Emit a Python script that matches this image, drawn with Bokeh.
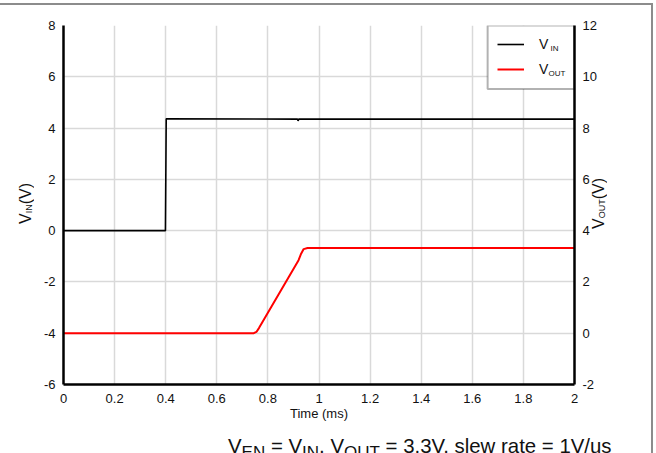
from bokeh.plotting import figure
from bokeh.models import (Range1d, LinearAxis, Label, Legend, LegendItem, Div, FixedTicker,
                          BoxAnnotation)
from bokeh.layouts import column, row
from bokeh.embed import file_html
from bokeh.resources import INLINE

# ---- data ----
vin_t = [0.0, 0.399, 0.402, 0.916, 0.918, 0.921, 2.0]
vin_v = [0.0, 0.0, 4.36, 4.35, 4.28, 4.35, 4.35]

vout_t = [0.0, 0.745, 0.755, 0.765, 0.92, 0.93, 0.94, 0.955, 2.0]
vout_v = [0.0, 0.0, 0.05, 0.2, 2.85, 3.1, 3.28, 3.32, 3.32]

x_ticks = [0, 0.2, 0.4, 0.6, 0.8, 1.0, 1.2, 1.4, 1.6, 1.8, 2.0]
x_tick_labels = ["0", "0.2", "0.4", "0.6", "0.8", "1", "1.2", "1.4", "1.6", "1.8", "2"]
yl_ticks = [-6, -4, -2, 0, 2, 4, 6, 8]
yl_tick_labels = ["-6", "-4", "-2", "0", "2", "4", "6", "8"]
yr_ticks = [-2, 0, 2, 4, 6, 8, 10, 12]
yr_tick_labels = ["-2", "0", "2", "4", "6", "8", "10", "12"]

FONT = "Liberation Sans"
TXT = "#111111"

p = figure(width=566, height=420, x_range=Range1d(0, 2), y_range=Range1d(-6, 8),
           output_backend="svg", toolbar_location=None,
           min_border_left=27, min_border_right=28, min_border_top=20, min_border_bottom=41)
p.extra_y_ranges = {"vout": Range1d(-2, 12)}
p.outline_line_color = None

ra = LinearAxis(y_range_name="vout")
p.add_layout(ra, "right")

p.xaxis.ticker = FixedTicker(ticks=x_ticks)
p.xaxis.major_label_overrides = dict(zip(x_ticks, x_tick_labels))
p.yaxis[0].ticker = FixedTicker(ticks=yl_ticks)
p.yaxis[0].major_label_overrides = dict(zip(yl_ticks, yl_tick_labels))
ra.ticker = FixedTicker(ticks=yr_ticks)
ra.major_label_overrides = dict(zip(yr_ticks, yr_tick_labels))

for ax in [p.xaxis[0], p.yaxis[0], ra]:
    ax.axis_line_color = "black"
    ax.axis_line_width = 2.5
    ax.major_tick_line_color = None
    ax.minor_tick_line_color = None
    ax.major_tick_out = 0
    ax.major_tick_in = 0
    ax.major_label_text_font = FONT
    ax.major_label_text_font_size = "13px"
    ax.major_label_text_color = TXT
    ax.major_label_standoff = 8
p.xaxis.major_label_standoff = 9

p.xaxis.axis_label = "Time (ms)"
p.xaxis.axis_label_text_font = FONT
p.xaxis.axis_label_text_font_size = "13px"
p.xaxis.axis_label_text_font_style = "normal"
p.xaxis.axis_label_standoff = 0
p.xaxis.axis_label_text_color = TXT

p.xgrid.ticker = FixedTicker(ticks=x_ticks)
p.ygrid.ticker = FixedTicker(ticks=yl_ticks)
p.grid.grid_line_color = "#d9d9d9"
p.grid.grid_line_width = 1.5

r_in = p.line(vin_t, vin_v, line_color="black", line_width=1.6)
r_out = p.line(vout_t, vout_v, line_color="#ff0000", line_width=2, y_range_name="vout")

# legend frame (white box with black border), drawn under a transparent legend
p.add_layout(BoxAnnotation(left=1.66, right=2.0, top=8.0, bottom=5.52,
                           fill_color="white", fill_alpha=1.0,
                           line_color="black", line_width=2, level="underlay"))

legend = Legend(items=[LegendItem(label="V", renderers=[r_in]),
                       LegendItem(label="V", renderers=[r_out])],
                location="top_right", margin=9, padding=9, spacing=5,
                glyph_width=27, glyph_height=20, label_standoff=15, label_width=26,
                border_line_color=None, background_fill_alpha=0,
                label_text_font=FONT, label_text_font_size="14px",
                label_text_color=TXT)
p.add_layout(legend)

# legend subscripts
for x, y, t in [(1.906, 7.12, "IN"), (1.898, 6.14, "OUT")]:
    p.add_layout(Label(x=x, y=y, text=t, text_font=FONT, text_font_size="8px",
                       text_color=TXT, text_baseline="middle"))

VSTYLE = ("writing-mode:vertical-rl; transform:rotate(180deg); display:inline-block; "
          "font-family:'Liberation Sans'; font-size:16px; color:#111111; line-height:17px;")
SUB = "<span style='font-size:9px; vertical-align:-3px'>{}</span>"

ldiv = Div(text=f"<div style='padding-top:178px; padding-left:17px;'>"
                f"<span style=\"{VSTYLE}\">V{SUB.format('IN')}(V)</span></div>",
           width=36, height=420, margin=0)
rdiv = Div(text=f"<div style='padding-top:173px; padding-left:2px; position:relative; left:-14px;'>"
                f"<span style=\"{VSTYLE}\">V{SUB.format('OUT')}(V)</span></div>",
           width=38, height=420, margin=0)

cap = Div(text='V<sub>EN</sub> = V<sub>IN</sub>, V<sub>OUT</sub> = 3.3V, slew rate = 1V/us',
          width=640, height=28, margin=0,
          styles={"font-family": FONT, "font-size": "20.4px", "color": TXT,
                  "padding-left": "228px", "margin-top": "7px"})

layout = column(row(ldiv, p, rdiv, spacing=0), cap, spacing=0,
                styles={"border-top": "2px solid #8c8c8c", "border-right": "2px solid #8c8c8c",
                        "width": "653px", "box-sizing": "border-box", "margin-top": "3px"})
open("out.html", "w").write(file_html(layout, INLINE))
